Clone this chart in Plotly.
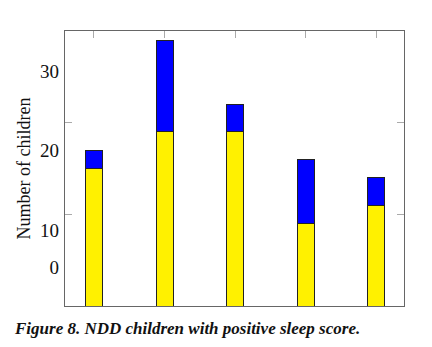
import plotly.graph_objects as go

categories = [0, 1, 2, 3, 4]
yellow_vals = [15, 19, 19, 9, 11]
blue_vals = [2, 10, 3, 7, 3]
ytick_label_pos = [4.24, 8.26, 16.96, 25.65]
ytick_labels = ["0", "10", "20", "30"]
caption = "<b><i>Figure 8. NDD children with positive sleep score.</i></b>"

fig = go.Figure()
fig.add_trace(go.Bar(x=categories, y=yellow_vals, width=0.24,
                     marker=dict(color="#FFF100", line=dict(color="#222", width=1)),
                     showlegend=False, hoverinfo="skip"))
fig.add_trace(go.Bar(x=categories, y=blue_vals, width=0.24,
                     marker=dict(color="#0000FF", line=dict(color="#222", width=1)),
                     showlegend=False, hoverinfo="skip"))
fig.add_trace(go.Scatter(x=[None], y=[None], yaxis="y2", showlegend=False, hoverinfo="skip"))

fig.update_layout(
    width=432, height=347,
    margin=dict(l=65, r=28, t=31, b=41),
    paper_bgcolor="white", plot_bgcolor="white",
    barmode="stack",
    xaxis=dict(range=[-0.41, 4.39], side="top", tickvals=categories, ticks="inside",
               ticklen=7, tickcolor="#aaa", showticklabels=False, showline=True,
               linecolor="#666", linewidth=1, mirror=True, showgrid=False, zeroline=False),
    yaxis=dict(range=[0, 30], tickvals=[10, 20], ticks="inside", ticklen=7,
               tickcolor="#aaa", showticklabels=False, showline=True, linecolor="#666",
               linewidth=1, mirror="ticks", showgrid=False, zeroline=False),
    yaxis2=dict(range=[0, 30], overlaying="y", side="left", tickvals=ytick_label_pos,
                ticktext=ytick_labels, ticks="", showline=False, showgrid=False,
                ticklabelstandoff=5,
                zeroline=False, tickfont=dict(family="Liberation Serif", size=19, color="#111"),
                title=dict(text="Number of children", standoff=4,
                           font=dict(family="Liberation Serif", size=18, color="#111"))),
    annotations=[dict(text=caption, xref="paper", yref="paper", x=-0.156, y=-0.08,
                      xanchor="left", yanchor="middle", showarrow=False,
                      font=dict(family="Liberation Serif", size=17, color="#111"))],
)

fig.write_html("out.html")
